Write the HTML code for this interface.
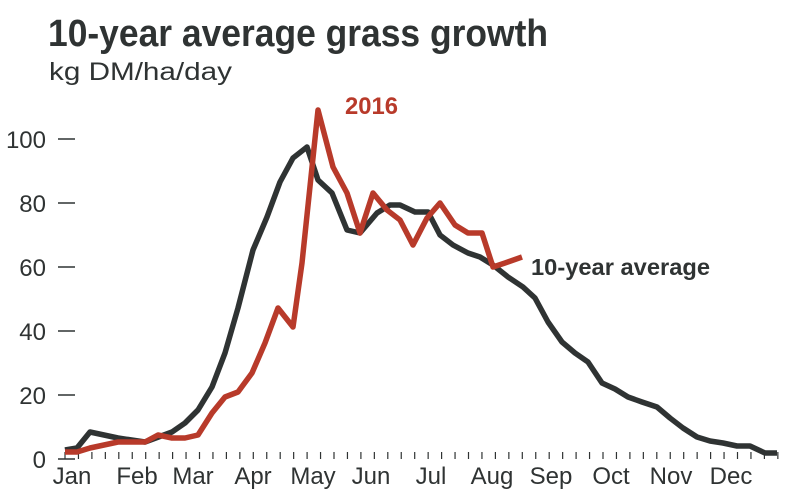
<!DOCTYPE html>
<html><head><meta charset="utf-8"><style>
body{margin:0;background:#fff;}
svg{display:block}
text{font-family:"Liberation Sans",sans-serif;fill:#2f3333}
</style></head><body>
<svg width="790" height="500" viewBox="0 0 790 500" xmlns="http://www.w3.org/2000/svg">
<rect width="790" height="500" fill="#fff"/>
<text x="48" y="46" font-size="38" font-weight="bold" textLength="500" lengthAdjust="spacingAndGlyphs">10-year average grass growth</text>
<text x="49" y="80" font-size="25" textLength="183" lengthAdjust="spacingAndGlyphs">kg DM/ha/day</text>
<g font-size="24" text-anchor="end">
<text x="46" y="148">100</text>
<text x="46" y="212">80</text>
<text x="46" y="276">60</text>
<text x="46" y="340">40</text>
<text x="46" y="404">20</text>
<text x="46" y="468">0</text>
</g>
<g stroke="#2f3333" stroke-width="1.5">
<line x1="58" y1="139" x2="75" y2="139"/>
<line x1="58" y1="203" x2="75" y2="203"/>
<line x1="58" y1="267" x2="75" y2="267"/>
<line x1="58" y1="331" x2="75" y2="331"/>
<line x1="58" y1="395" x2="75" y2="395"/>
<line x1="58" y1="459" x2="75" y2="459"/>
</g>
<g id="ticks" stroke="#2f3333" stroke-width="1.2"></g>
<g font-size="24" text-anchor="middle">
<text x="72" y="484">Jan</text>
<text x="137" y="484">Feb</text>
<text x="193" y="484">Mar</text>
<text x="253" y="484">Apr</text>
<text x="313" y="484">May</text>
<text x="371" y="484">Jun</text>
<text x="431" y="484">Jul</text>
<text x="492" y="484">Aug</text>
<text x="551" y="484">Sep</text>
<text x="611" y="484">Oct</text>
<text x="671" y="484">Nov</text>
<text x="731" y="484">Dec</text>
</g>
<polyline fill="none" stroke="#2f3333" stroke-width="5.5" stroke-linejoin="round" points="65,450 77,448 90,432 118,438 145,442 172,432 185,423 198,410 212,387 225,353 238,308 253,250 267,217 280,182 293,158 307,147 318,180 332,193 347,230 360,233 377,213 390,205 400,205 415,212 428,212 440,235 453,245 468,253 480,257 493,265 508,277 523,287 535,298 548,322 562,342 575,353 588,362 602,383 615,389 628,397 642,402 657,407 670,418 683,428 697,437 710,441 723,443 737,446 750,446 765,453 777,453"/>
<polyline fill="none" stroke="#b83a2a" stroke-width="5.5" stroke-linejoin="round" points="65,452 77,452 90,448 118,442 145,442 158,435 172,438 185,438 198,435 212,413 225,397 238,392 252,373 265,343 278,308 293,327 302,263 318,110 333,167 347,193 360,233 373,193 387,210 400,220 413,245 427,218 440,203 455,225 468,233 482,233 493,267 505,263 522,257"/>
<text x="345" y="114" font-size="24" font-weight="bold" style="fill:#b83a2a" textLength="53" lengthAdjust="spacingAndGlyphs">2016</text>
<text x="531" y="275" font-size="23" font-weight="bold" textLength="179" lengthAdjust="spacingAndGlyphs">10-year average</text>
<script>
var g=document.getElementById('ticks');
for(var x=65;x<=779;x+=13.45){var l=document.createElementNS('http://www.w3.org/2000/svg','line');l.setAttribute('x1',x);l.setAttribute('x2',x);l.setAttribute('y1',452);l.setAttribute('y2',459);g.appendChild(l);}
</script>
</svg>
</body></html>
